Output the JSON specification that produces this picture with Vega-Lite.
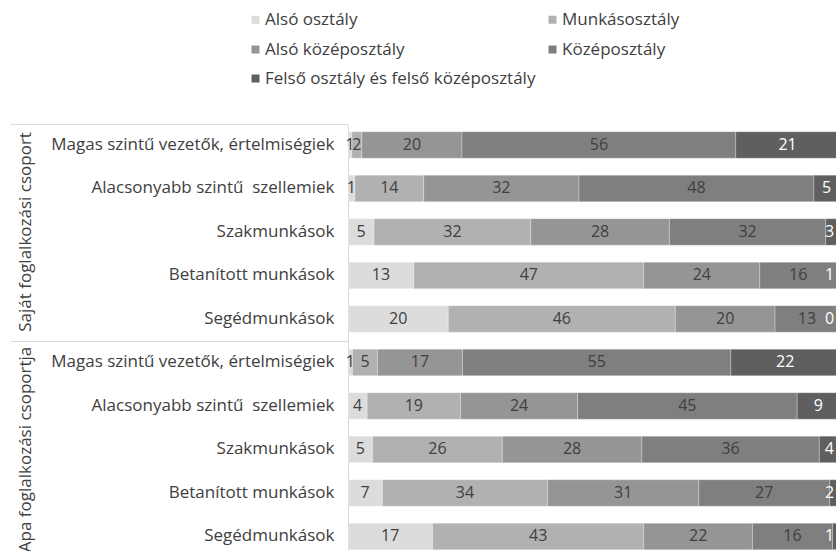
{
  "$schema": "https://vega.github.io/schema/vega-lite/v6.json",
  "width": 488,
  "height": 426,
  "autosize": {"type": "none"},
  "padding": {"left": 348, "top": 125, "right": 0, "bottom": 0},
  "background": "#ffffff",
  "config": {
    "view": {"stroke": null},
    "font": "Open Sans",
    "axis": {"grid": false}
  },
  "data": {
    "values": [
      {"csoport": "Saját foglalkozási csoport", "foglalkozas": "Magas szintű vezetők, értelmiségiek", "osztaly": "Alsó osztály", "ertek": 0.8},
      {"csoport": "Saját foglalkozási csoport", "foglalkozas": "Magas szintű vezetők, értelmiségiek", "osztaly": "Munkásosztály", "ertek": 2.0},
      {"csoport": "Saját foglalkozási csoport", "foglalkozas": "Magas szintű vezetők, értelmiségiek", "osztaly": "Alsó középosztály", "ertek": 20.4},
      {"csoport": "Saját foglalkozási csoport", "foglalkozas": "Magas szintű vezetők, értelmiségiek", "osztaly": "Középosztály", "ertek": 55.7},
      {"csoport": "Saját foglalkozási csoport", "foglalkozas": "Magas szintű vezetők, értelmiségiek", "osztaly": "Felső osztály és felső középosztály", "ertek": 21.1},
      {"csoport": "Saját foglalkozási csoport", "foglalkozas": "Alacsonyabb szintű\u00a0 szellemiek", "osztaly": "Alsó osztály", "ertek": 1.4},
      {"csoport": "Saját foglalkozási csoport", "foglalkozas": "Alacsonyabb szintű\u00a0 szellemiek", "osztaly": "Munkásosztály", "ertek": 14.0},
      {"csoport": "Saját foglalkozási csoport", "foglalkozas": "Alacsonyabb szintű\u00a0 szellemiek", "osztaly": "Alsó középosztály", "ertek": 31.6},
      {"csoport": "Saját foglalkozási csoport", "foglalkozas": "Alacsonyabb szintű\u00a0 szellemiek", "osztaly": "Középosztály", "ertek": 47.8},
      {"csoport": "Saját foglalkozási csoport", "foglalkozas": "Alacsonyabb szintű\u00a0 szellemiek", "osztaly": "Felső osztály és felső középosztály", "ertek": 5.2},
      {"csoport": "Saját foglalkozási csoport", "foglalkozas": "Szakmunkások", "osztaly": "Alsó osztály", "ertek": 5.3},
      {"csoport": "Saját foglalkozási csoport", "foglalkozas": "Szakmunkások", "osztaly": "Munkásosztály", "ertek": 31.9},
      {"csoport": "Saját foglalkozási csoport", "foglalkozas": "Szakmunkások", "osztaly": "Alsó középosztály", "ertek": 28.2},
      {"csoport": "Saját foglalkozási csoport", "foglalkozas": "Szakmunkások", "osztaly": "Középosztály", "ertek": 31.8},
      {"csoport": "Saját foglalkozási csoport", "foglalkozas": "Szakmunkások", "osztaly": "Felső osztály és felső középosztály", "ertek": 2.8},
      {"csoport": "Saját foglalkozási csoport", "foglalkozas": "Betanított munkások", "osztaly": "Alsó osztály", "ertek": 13.4},
      {"csoport": "Saját foglalkozási csoport", "foglalkozas": "Betanított munkások", "osztaly": "Munkásosztály", "ertek": 46.8},
      {"csoport": "Saját foglalkozási csoport", "foglalkozas": "Betanított munkások", "osztaly": "Alsó középosztály", "ertek": 23.6},
      {"csoport": "Saját foglalkozási csoport", "foglalkozas": "Betanított munkások", "osztaly": "Középosztály", "ertek": 15.6},
      {"csoport": "Saját foglalkozási csoport", "foglalkozas": "Betanított munkások", "osztaly": "Felső osztály és felső középosztály", "ertek": 0.6},
      {"csoport": "Saját foglalkozási csoport", "foglalkozas": "Segédmunkások", "osztaly": "Alsó osztály", "ertek": 20.4},
      {"csoport": "Saját foglalkozási csoport", "foglalkozas": "Segédmunkások", "osztaly": "Munkásosztály", "ertek": 46.2},
      {"csoport": "Saját foglalkozási csoport", "foglalkozas": "Segédmunkások", "osztaly": "Alsó középosztály", "ertek": 20.3},
      {"csoport": "Saját foglalkozási csoport", "foglalkozas": "Segédmunkások", "osztaly": "Középosztály", "ertek": 13.0},
      {"csoport": "Saját foglalkozási csoport", "foglalkozas": "Segédmunkások", "osztaly": "Felső osztály és felső középosztály", "ertek": 0.1},
      {"csoport": "Apa foglalkozási csoportja", "foglalkozas": "Magas szintű vezetők, értelmiségiek", "osztaly": "Alsó osztály", "ertek": 0.9},
      {"csoport": "Apa foglalkozási csoportja", "foglalkozas": "Magas szintű vezetők, értelmiségiek", "osztaly": "Munkásosztály", "ertek": 5.1},
      {"csoport": "Apa foglalkozási csoportja", "foglalkozas": "Magas szintű vezetők, értelmiségiek", "osztaly": "Alsó középosztály", "ertek": 17.3},
      {"csoport": "Apa foglalkozási csoportja", "foglalkozas": "Magas szintű vezetők, értelmiségiek", "osztaly": "Középosztály", "ertek": 54.6},
      {"csoport": "Apa foglalkozási csoportja", "foglalkozas": "Magas szintű vezetők, értelmiségiek", "osztaly": "Felső osztály és felső középosztály", "ertek": 22.1},
      {"csoport": "Apa foglalkozási csoportja", "foglalkozas": "Alacsonyabb szintű\u00a0 szellemiek", "osztaly": "Alsó osztály", "ertek": 3.9},
      {"csoport": "Apa foglalkozási csoportja", "foglalkozas": "Alacsonyabb szintű\u00a0 szellemiek", "osztaly": "Munkásosztály", "ertek": 19.0},
      {"csoport": "Apa foglalkozási csoportja", "foglalkozas": "Alacsonyabb szintű\u00a0 szellemiek", "osztaly": "Alsó középosztály", "ertek": 23.8},
      {"csoport": "Apa foglalkozási csoportja", "foglalkozas": "Alacsonyabb szintű\u00a0 szellemiek", "osztaly": "Középosztály", "ertek": 44.7},
      {"csoport": "Apa foglalkozási csoportja", "foglalkozas": "Alacsonyabb szintű\u00a0 szellemiek", "osztaly": "Felső osztály és felső középosztály", "ertek": 8.6},
      {"csoport": "Apa foglalkozási csoportja", "foglalkozas": "Szakmunkások", "osztaly": "Alsó osztály", "ertek": 5.0},
      {"csoport": "Apa foglalkozási csoportja", "foglalkozas": "Szakmunkások", "osztaly": "Munkásosztály", "ertek": 26.4},
      {"csoport": "Apa foglalkozási csoportja", "foglalkozas": "Szakmunkások", "osztaly": "Alsó középosztály", "ertek": 28.4},
      {"csoport": "Apa foglalkozási csoportja", "foglalkozas": "Szakmunkások", "osztaly": "Középosztály", "ertek": 36.1},
      {"csoport": "Apa foglalkozási csoportja", "foglalkozas": "Szakmunkások", "osztaly": "Felső osztály és felső középosztály", "ertek": 4.1},
      {"csoport": "Apa foglalkozási csoportja", "foglalkozas": "Betanított munkások", "osztaly": "Alsó osztály", "ertek": 7.0},
      {"csoport": "Apa foglalkozási csoportja", "foglalkozas": "Betanított munkások", "osztaly": "Munkásosztály", "ertek": 33.6},
      {"csoport": "Apa foglalkozási csoportja", "foglalkozas": "Betanított munkások", "osztaly": "Alsó középosztály", "ertek": 30.8},
      {"csoport": "Apa foglalkozási csoportja", "foglalkozas": "Betanított munkások", "osztaly": "Középosztály", "ertek": 26.6},
      {"csoport": "Apa foglalkozási csoportja", "foglalkozas": "Betanított munkások", "osztaly": "Felső osztály és felső középosztály", "ertek": 2.0},
      {"csoport": "Apa foglalkozási csoportja", "foglalkozas": "Segédmunkások", "osztaly": "Alsó osztály", "ertek": 17.2},
      {"csoport": "Apa foglalkozási csoportja", "foglalkozas": "Segédmunkások", "osztaly": "Munkásosztály", "ertek": 43.0},
      {"csoport": "Apa foglalkozási csoportja", "foglalkozas": "Segédmunkások", "osztaly": "Alsó középosztály", "ertek": 22.1},
      {"csoport": "Apa foglalkozási csoportja", "foglalkozas": "Segédmunkások", "osztaly": "Középosztály", "ertek": 16.3},
      {"csoport": "Apa foglalkozási csoportja", "foglalkozas": "Segédmunkások", "osztaly": "Felső osztály és felső középosztály", "ertek": 1.4}
    ]
  },
  "transform": [
    {"calculate": "datum.csoport + '|' + datum.foglalkozas", "as": "kulcs"},
    {"calculate": "indexof(['Alsó osztály','Munkásosztály','Alsó középosztály','Középosztály','Felső osztály és felső középosztály'], datum.osztaly)", "as": "rend"},
    {"stack": "ertek", "groupby": ["kulcs"], "sort": [{"field": "rend", "order": "ascending"}], "as": ["x0", "x1"]},
    {"calculate": "min((datum.x0 + datum.x1) / 2, 98)", "as": "xm"}
  ],
  "layer": [
    {
      "transform": [{"filter": "datum.rend < 4"}],
      "mark": {"type": "bar", "clip": true, "stroke": "#ffffff", "strokeWidth": 0.6, "strokeOpacity": 0.45},
      "encoding": {
        "y": {
          "field": "kulcs", "type": "nominal", "sort": null,
          "scale": {"range": [0, 431.4], "paddingInner": 0.391, "paddingOuter": 0.154},
          "axis": {
            "orient": "left", "title": null, "ticks": false,
            "domainColor": "#d9d9d9", "domainWidth": 1,
            "labelExpr": "split(datum.value, '|')[1]",
            "labelFont": "Open Sans", "labelFontSize": 17, "labelColor": "#404040",
            "labelPadding": 14, "labelLimit": 400
          }
        },
        "x": {"field": "x0", "type": "quantitative", "stack": null, "scale": {"domain": [0, 99.3], "nice": false, "zero": true}, "axis": null},
        "x2": {"field": "x1"},
        "color": {
          "field": "osztaly", "type": "nominal",
          "scale": {
            "domain": ["Alsó osztály", "Munkásosztály", "Alsó középosztály", "Középosztály"],
            "range": ["#dcdcdc", "#b1b1b1", "#959595", "#7f7f7f"]
          },
          "legend": {
            "orient": "none", "legendX": -101, "legendY": -114,
            "direction": "horizontal", "columns": 2, "columnPadding": 139, "rowPadding": 12,
            "title": null, "padding": 0,
            "symbolType": "square", "symbolSize": 64, "symbolStrokeWidth": 0,
            "labelFont": "Open Sans", "labelFontSize": 17, "labelColor": "#404040", "labelOffset": 1, "labelLimit": 400
          }
        }
      }
    },
    {
      "transform": [{"filter": "datum.rend == 4"}],
      "mark": {"type": "bar", "clip": true, "stroke": "#ffffff", "strokeWidth": 0.6, "strokeOpacity": 0.45},
      "encoding": {
        "y": {"field": "kulcs", "type": "nominal", "sort": null, "axis": null},
        "x": {"field": "x0", "type": "quantitative", "stack": null},
        "x2": {"field": "x1"},
        "color": {
          "field": "osztaly", "type": "nominal",
          "scale": {"domain": ["Felső osztály és felső középosztály"], "range": ["#5f5f5f"]},
          "legend": {
            "orient": "none", "legendX": -101, "legendY": -55,
            "title": null, "padding": 0,
            "symbolType": "square", "symbolSize": 64, "symbolStrokeWidth": 0,
            "labelFont": "Open Sans", "labelFontSize": 17, "labelColor": "#404040", "labelOffset": 1, "labelLimit": 400
          }
        }
      }
    },
    {
      "transform": [{"filter": "datum.rend < 4"}],
      "mark": {"type": "text", "font": "Open Sans", "fontSize": 16, "color": "#404040", "align": "center", "baseline": "middle"},
      "encoding": {
        "y": {
          "field": "kulcs", "type": "nominal", "sort": null,
          "axis": {
            "orient": "left", "title": null, "ticks": false, "domain": false,
            "values": ["Saját foglalkozási csoport|Szakmunkások", "Apa foglalkozási csoportja|Szakmunkások"],
            "labelExpr": "split(datum.value, '|')[0]",
            "labelAngle": -90, "labelAlign": "center", "labelBaseline": "alphabetic",
            "labelFont": "Open Sans", "labelFontSize": 17, "labelColor": "#404040",
            "labelPadding": 318, "labelLimit": 400
          }
        },
        "x": {"field": "xm", "type": "quantitative", "stack": null},
        "text": {"field": "ertek", "type": "quantitative", "format": ".0f"}
      }
    },
    {
      "transform": [{"filter": "datum.rend == 4"}],
      "mark": {"type": "text", "font": "Open Sans", "fontSize": 16, "color": "#ffffff", "align": "center", "baseline": "middle"},
      "encoding": {
        "y": {
          "field": "kulcs", "type": "nominal", "sort": null,
          "axis": {
            "orient": "left", "title": null, "labels": false, "domain": false,
            "ticks": true, "tickSize": 338, "tickColor": "#d9d9d9", "tickWidth": 1,
            "bandPosition": -0.29,
            "values": ["Saját foglalkozási csoport|Magas szintű vezetők, értelmiségiek", "Apa foglalkozási csoportja|Magas szintű vezetők, értelmiségiek"]
          }
        },
        "x": {"field": "xm", "type": "quantitative", "stack": null},
        "text": {"field": "ertek", "type": "quantitative", "format": ".0f"}
      }
    }
  ],
  "resolve": {"scale": {"color": "independent"}, "axis": {"y": "independent"}}
}
